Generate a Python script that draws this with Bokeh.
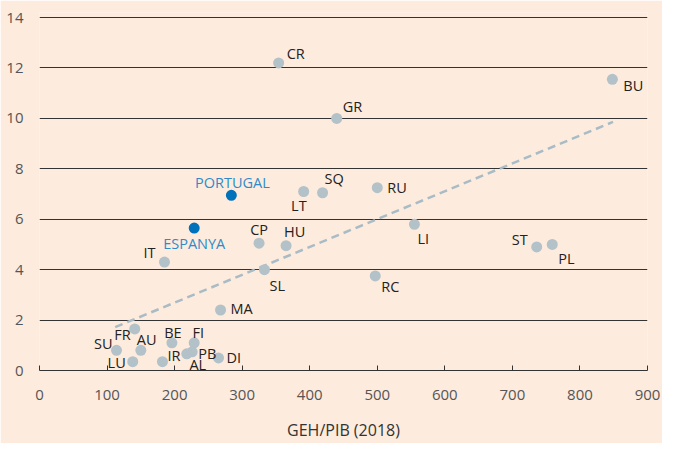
from bokeh.plotting import figure
from bokeh.models import ColumnDataSource, FixedTicker
from bokeh.core.properties import value
from bokeh.embed import file_html
from bokeh.resources import INLINE

# ---- data ----
countries = ["CR", "GR", "BU", "LT", "SQ", "RU", "CP", "HU", "IT", "SL", "MA",
             "FR", "SU", "AU", "LU", "BE", "FI", "PB", "AL", "IR", "DI", "LI",
             "ST", "PL", "RC"]
geh_pib = [354, 440, 848, 391, 419, 500, 325, 365, 185, 333, 268,
           141, 114, 150, 138, 196, 229, 226, 218, 182, 265, 555,
           736, 759, 497]
values = [12.2, 10.0, 11.55, 7.1, 7.05, 7.25, 5.05, 4.95, 4.3, 4.0, 2.4,
          1.65, 0.8, 0.8, 0.35, 1.1, 1.1, 0.74, 0.66, 0.35, 0.5, 5.8,
          4.9, 5.0, 3.75]

hl_countries = ["PORTUGAL", "ESPANYA"]
hl_geh_pib = [284, 229]
hl_values = [6.95, 5.65]

trend_x = [112, 849]
trend_y = [1.72, 9.86]

x_ticks = [0, 100, 200, 300, 400, 500, 600, 700, 800, 900]
y_ticks = [0, 2, 4, 6, 8, 10, 12, 14]

# ---- label placement (screen px offsets) ----
label_style = {
    "CR": (8, -9, "left"), "GR": (6, -12, "left"), "BU": (11, 6, "left"),
    "LT": (3, 14, "right"), "SQ": (2, -14, "left"), "RU": (10, 0, "left"),
    "CP": (0, -14, "center"), "HU": (-2, -14, "left"), "IT": (-9, -10, "right"),
    "SL": (5, 16, "left"), "MA": (10, -1, "left"), "FR": (-4, 6, "right"),
    "SU": (-4, -7, "right"), "AU": (-4, -11, "left"), "LU": (-7, 1, "right"),
    "BE": (1, -10, "center"), "FI": (4, -10, "center"), "PB": (6, 2, "left"),
    "AL": (11, 11, "center"), "IR": (5, -6, "left"), "DI": (8, 0, "left"),
    "LI": (3, 14, "left"), "ST": (-9, -7, "right"), "PL": (6, 14, "left"),
    "RC": (6, 11, "left"),
}
hl_style = {"PORTUGAL": (1, -13, "center"), "ESPANYA": (0, 15, "center")}

BG = "#FDEBDD"
GREY_PT = "#B3C1C8"
BLUE_PT = "#0071BB"
BLUE_TXT = "#2E8BCB"
FONT = "Open Sans"

p = figure(width=662, height=443, output_backend="svg", toolbar_location=None,
           x_range=(0, 900), y_range=(0, 14.2),
           min_border_left=39, min_border_right=15, min_border_top=12,
           min_border_bottom=72)
p.background_fill_color = BG
p.border_fill_color = BG
p.outline_line_color = None

# grid
p.xgrid.grid_line_color = None
p.ygrid.grid_line_color = "#333333"
p.ygrid.grid_line_width = 1
p.ygrid.ticker = FixedTicker(ticks=y_ticks)

# x axis
p.xaxis.ticker = FixedTicker(ticks=x_ticks)
p.xaxis.axis_line_color = "#333333"
p.xaxis.major_tick_line_color = "#333333"
p.xaxis.major_tick_in = 5
p.xaxis.major_tick_out = 0
p.xaxis.minor_tick_line_color = None
p.xaxis.major_label_text_font = FONT
p.xaxis.major_label_text_font_size = "15px"
p.xaxis.major_label_text_color = "#555555"
p.xaxis.major_label_standoff = 19
p.xaxis.axis_label = "GEH/PIB (2018)"
p.xaxis.axis_label_text_font = FONT
p.xaxis.axis_label_text_font_size = "16px"
p.xaxis.axis_label_text_font_style = "normal"
p.xaxis.axis_label_text_color = "#333333"
p.xaxis.axis_label_standoff = 16

# y axis
p.yaxis.ticker = FixedTicker(ticks=y_ticks)
p.yaxis.axis_line_color = None
p.yaxis.major_tick_line_color = None
p.yaxis.minor_tick_line_color = None
p.yaxis.major_tick_in = 0
p.yaxis.major_tick_out = 0
p.yaxis.major_label_text_font = FONT
p.yaxis.major_label_text_font_size = "15px"
p.yaxis.major_label_text_color = "#555555"
p.yaxis.major_label_standoff = 16

# trend line
p.line(trend_x, trend_y, line_color="#A9BCC6", line_width=2.5, line_dash="8 5")

# points
src = ColumnDataSource(dict(
    x=geh_pib, y=values, name=countries,
    dx=[label_style[c][0] for c in countries],
    dy=[label_style[c][1] for c in countries],
    align=[label_style[c][2] for c in countries],
))
p.scatter("x", "y", source=src, size=11, fill_color=GREY_PT, line_color=None)
p.text("x", "y", text="name", source=src, x_offset="dx", y_offset="dy",
       text_align="align", text_baseline="middle", text_font=value(FONT),
       text_font_size="14.5px", text_color="#222222")

hsrc = ColumnDataSource(dict(
    x=hl_geh_pib, y=hl_values, name=hl_countries,
    dx=[hl_style[c][0] for c in hl_countries],
    dy=[hl_style[c][1] for c in hl_countries],
    align=[hl_style[c][2] for c in hl_countries],
))
p.scatter("x", "y", source=hsrc, size=11, fill_color=BLUE_PT, line_color=None)
p.text("x", "y", text="name", source=hsrc, x_offset="dx", y_offset="dy",
       text_align="align", text_baseline="middle", text_font=value(FONT),
       text_font_size="14.5px", text_color=BLUE_TXT)

open("out.html", "w").write(file_html(p, INLINE))
